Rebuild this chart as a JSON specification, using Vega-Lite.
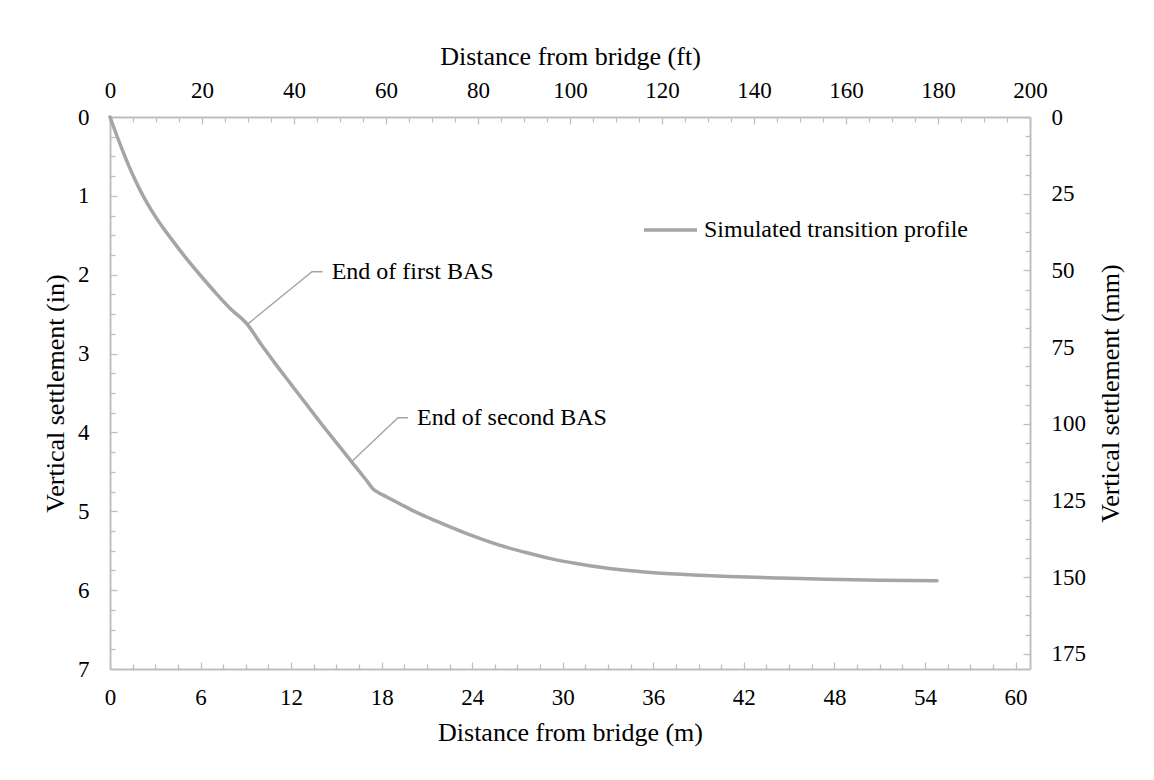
{
  "$schema": "https://vega.github.io/schema/vega-lite/v6.json",
  "width": 920,
  "height": 552,
  "autosize": {"type": "none"},
  "padding": {"left": 110, "top": 117, "right": 124, "bottom": 111},
  "background": "white",
  "config": {
    "view": {"stroke": null},
    "font": "Liberation Serif",
    "axis": {
      "grid": false,
      "labelFont": "Liberation Serif",
      "titleFont": "Liberation Serif",
      "labelFontSize": 23,
      "titleFontSize": 26,
      "labelColor": "#000000",
      "titleColor": "#000000",
      "titleFontWeight": "normal",
      "domainColor": "#bfbfbf",
      "domainWidth": 2,
      "tickColor": "#bfbfbf",
      "tickWidth": 1.3,
      "labelFlush": false,
      "labelOverlap": false
    }
  },
  "datasets": {
    "profile": [
      {"m": 0, "in": 0},
      {"m": 0.5, "in": 0.26},
      {"m": 1.0, "in": 0.505},
      {"m": 1.5, "in": 0.73},
      {"m": 2.0, "in": 0.93},
      {"m": 2.5, "in": 1.105},
      {"m": 3.0, "in": 1.26},
      {"m": 3.5, "in": 1.4},
      {"m": 4.0, "in": 1.53},
      {"m": 5.0, "in": 1.78},
      {"m": 6.0, "in": 2.01},
      {"m": 7.0, "in": 2.23},
      {"m": 8.0, "in": 2.435},
      {"m": 9.1, "in": 2.63},
      {"m": 10.0, "in": 2.88},
      {"m": 11.0, "in": 3.14},
      {"m": 12.0, "in": 3.39},
      {"m": 13.0, "in": 3.64},
      {"m": 14.0, "in": 3.89},
      {"m": 15.0, "in": 4.13},
      {"m": 16.0, "in": 4.37},
      {"m": 17.0, "in": 4.61},
      {"m": 17.45, "in": 4.72},
      {"m": 17.8, "in": 4.765},
      {"m": 18.2, "in": 4.805},
      {"m": 19.2, "in": 4.905},
      {"m": 20.0, "in": 4.985},
      {"m": 21.2, "in": 5.09},
      {"m": 22.5, "in": 5.195},
      {"m": 24.0, "in": 5.31},
      {"m": 25.8, "in": 5.43},
      {"m": 27.5, "in": 5.52},
      {"m": 29.2, "in": 5.6},
      {"m": 31.0, "in": 5.665},
      {"m": 32.5, "in": 5.71},
      {"m": 34.0, "in": 5.745},
      {"m": 35.8, "in": 5.775},
      {"m": 37.8, "in": 5.8},
      {"m": 39.1, "in": 5.812},
      {"m": 41.0, "in": 5.827},
      {"m": 44.4, "in": 5.847},
      {"m": 47.5, "in": 5.862},
      {"m": 51.0, "in": 5.873},
      {"m": 54.8, "in": 5.88}
    ],
    "leaders": [
      {"id": 1, "ord": 0, "m": 9.1, "in": 2.63},
      {"id": 1, "ord": 1, "m": 13.38, "in": 1.962},
      {"id": 1, "ord": 2, "m": 14.09, "in": 1.962},
      {"id": 2, "ord": 0, "m": 16.02, "in": 4.37},
      {"id": 2, "ord": 1, "m": 19.08, "in": 3.813},
      {"id": 2, "ord": 2, "m": 19.75, "in": 3.813}
    ],
    "notes": [
      {"label": "End of first BAS", "m": 14.69, "in": 1.962},
      {"label": "End of second BAS", "m": 20.34, "in": 3.813}
    ]
  },
  "layer": [
    {
      "data": {"name": "profile"},
      "mark": {"type": "point", "opacity": 0},
      "encoding": {
        "x": {"field": "m", "type": "quantitative", "scale": {"domain": [0, 60.96], "nice": false, "zero": false},
          "axis": {"orient": "bottom", "values": [0, 6, 12, 18, 24, 30, 36, 42, 48, 54, 60], "ticks": false, "labelPadding": 17, "title": "Distance from bridge (m)", "titlePadding": 10}},
        "y": {"field": "in", "type": "quantitative", "scale": {"domain": [0, 7], "reverse": true, "nice": false, "zero": false},
          "axis": {"orient": "left", "values": [0, 1, 2, 3, 4, 5, 6, 7], "ticks": false, "labelPadding": 21, "title": "Vertical settlement (in)", "titlePadding": 9}}
      }
    },
    {
      "data": {"name": "profile"},
      "mark": {"type": "point", "opacity": 0},
      "encoding": {
        "x": {"field": "m", "type": "quantitative", "scale": {"domain": [0, 60.96], "nice": false, "zero": false},
          "axis": {"orient": "bottom", "values": [0, 6, 12, 18, 24, 30, 36, 42, 48, 54, 60], "labels": false, "domain": false, "ticks": true, "tickSize": -7, "title": null}},
        "y": {"field": "in", "type": "quantitative", "scale": {"domain": [0, 7], "reverse": true, "nice": false, "zero": false},
          "axis": {"orient": "left", "values": [0, 1, 2, 3, 4, 5, 6, 7], "labels": false, "domain": false, "ticks": true, "tickSize": -7, "title": null}}
      }
    },
    {
      "data": {"name": "profile"},
      "mark": {"type": "point", "opacity": 0},
      "encoding": {
        "x": {"field": "m", "type": "quantitative", "scale": {"domain": [0, 60.96], "nice": false, "zero": false},
          "axis": {"orient": "bottom", "values": [1.5, 3, 4.5, 7.5, 9, 10.5, 13.5, 15, 16.5, 19.5, 21, 22.5, 25.5, 27, 28.5, 31.5, 33, 34.5, 37.5, 39, 40.5, 43.5, 45, 46.5, 49.5, 51, 52.5, 55.5, 57, 58.5], "labels": false, "domain": false, "ticks": true, "tickSize": -5, "title": null}},
        "y": {"field": "in", "type": "quantitative", "scale": {"domain": [0, 7], "reverse": true, "nice": false, "zero": false},
          "axis": {"orient": "left", "values": [0.25, 0.5, 0.75, 1.25, 1.5, 1.75, 2.25, 2.5, 2.75, 3.25, 3.5, 3.75, 4.25, 4.5, 4.75, 5.25, 5.5, 5.75, 6.25, 6.5, 6.75], "labels": false, "domain": false, "ticks": true, "tickSize": -5, "title": null}}
      }
    },
    {
      "data": {"name": "profile"},
      "mark": {"type": "point", "opacity": 0},
      "encoding": {
        "x": {"field": "m", "type": "quantitative", "scale": {"domain": [0, 200], "nice": false, "zero": false},
          "axis": {"orient": "top", "values": [0, 20, 40, 60, 80, 100, 120, 140, 160, 180, 200], "ticks": false, "labelPadding": 15, "title": "Distance from bridge (ft)", "titlePadding": 10}},
        "y": {"field": "in", "type": "quantitative", "scale": {"domain": [0, 180], "reverse": true, "nice": false, "zero": false},
          "axis": {"orient": "right", "values": [0, 25, 50, 75, 100, 125, 150, 175], "ticks": false, "labelPadding": 21, "title": "Vertical settlement (mm)", "titleAngle": 270, "titleBaseline": "top", "titlePadding": 12}}
      }
    },
    {
      "data": {"name": "profile"},
      "mark": {"type": "point", "opacity": 0},
      "encoding": {
        "x": {"field": "m", "type": "quantitative", "scale": {"domain": [0, 200], "nice": false, "zero": false},
          "axis": {"orient": "top", "values": [0, 20, 40, 60, 80, 100, 120, 140, 160, 180, 200], "labels": false, "domain": false, "ticks": true, "tickSize": -7, "title": null}},
        "y": {"field": "in", "type": "quantitative", "scale": {"domain": [0, 180], "reverse": true, "nice": false, "zero": false},
          "axis": {"orient": "right", "values": [0, 25, 50, 75, 100, 125, 150, 175], "labels": false, "domain": false, "ticks": true, "tickSize": -7, "title": null}}
      }
    },
    {
      "data": {"name": "profile"},
      "mark": {"type": "point", "opacity": 0},
      "encoding": {
        "x": {"field": "m", "type": "quantitative", "scale": {"domain": [0, 200], "nice": false, "zero": false},
          "axis": {"orient": "top", "values": [5, 10, 15, 25, 30, 35, 45, 50, 55, 65, 70, 75, 85, 90, 95, 105, 110, 115, 125, 130, 135, 145, 150, 155, 165, 170, 175, 185, 190, 195], "labels": false, "domain": false, "ticks": true, "tickSize": -5, "title": null}},
        "y": {"field": "in", "type": "quantitative", "scale": {"domain": [0, 180], "reverse": true, "nice": false, "zero": false},
          "axis": {"orient": "right", "values": [6.25, 12.5, 18.75, 31.25, 37.5, 43.75, 56.25, 62.5, 68.75, 81.25, 87.5, 93.75, 106.25, 112.5, 118.75, 131.25, 137.5, 143.75, 156.25, 162.5, 168.75], "labels": false, "domain": false, "ticks": true, "tickSize": -5, "title": null}}
      }
    },
    {
      "data": {"name": "leaders"},
      "mark": {"type": "line", "color": "#a5a5a5", "strokeWidth": 1.4},
      "encoding": {
        "x": {"field": "m", "type": "quantitative", "scale": {"domain": [0, 60.96], "nice": false, "zero": false}, "axis": null},
        "y": {"field": "in", "type": "quantitative", "scale": {"domain": [0, 7], "reverse": true, "nice": false, "zero": false}, "axis": null},
        "detail": {"field": "id", "type": "nominal"},
        "order": {"field": "ord", "type": "quantitative"}
      }
    },
    {
      "data": {"name": "profile"},
      "mark": {"type": "line", "strokeWidth": 3.5, "strokeCap": "round", "strokeJoin": "round", "interpolate": "monotone"},
      "encoding": {
        "x": {"field": "m", "type": "quantitative", "scale": {"domain": [0, 60.96], "nice": false, "zero": false}, "axis": null},
        "y": {"field": "in", "type": "quantitative", "scale": {"domain": [0, 7], "reverse": true, "nice": false, "zero": false}, "axis": null},
        "color": {"datum": "Simulated transition profile", "type": "nominal", "scale": {"range": ["#a5a5a5"]},
          "legend": {"orient": "none", "legendX": 532, "legendY": 84.5, "title": null, "padding": 0, "symbolType": "stroke", "symbolSize": 2809, "symbolStrokeWidth": 3.5, "labelFont": "Liberation Serif", "labelFontSize": 24, "labelColor": "#000000", "labelOffset": 5, "labelLimit": 400}}
      }
    },
    {
      "data": {"name": "notes"},
      "mark": {"type": "text", "align": "left", "baseline": "middle", "font": "Liberation Serif", "fontSize": 24, "color": "#000000"},
      "encoding": {
        "x": {"field": "m", "type": "quantitative", "scale": {"domain": [0, 60.96], "nice": false, "zero": false}, "axis": null},
        "y": {"field": "in", "type": "quantitative", "scale": {"domain": [0, 7], "reverse": true, "nice": false, "zero": false}, "axis": null},
        "text": {"field": "label", "type": "nominal"}
      }
    }
  ],
  "resolve": {
    "scale": {"x": "independent", "y": "independent", "color": "independent"},
    "axis": {"x": "independent", "y": "independent"}
  }
}
